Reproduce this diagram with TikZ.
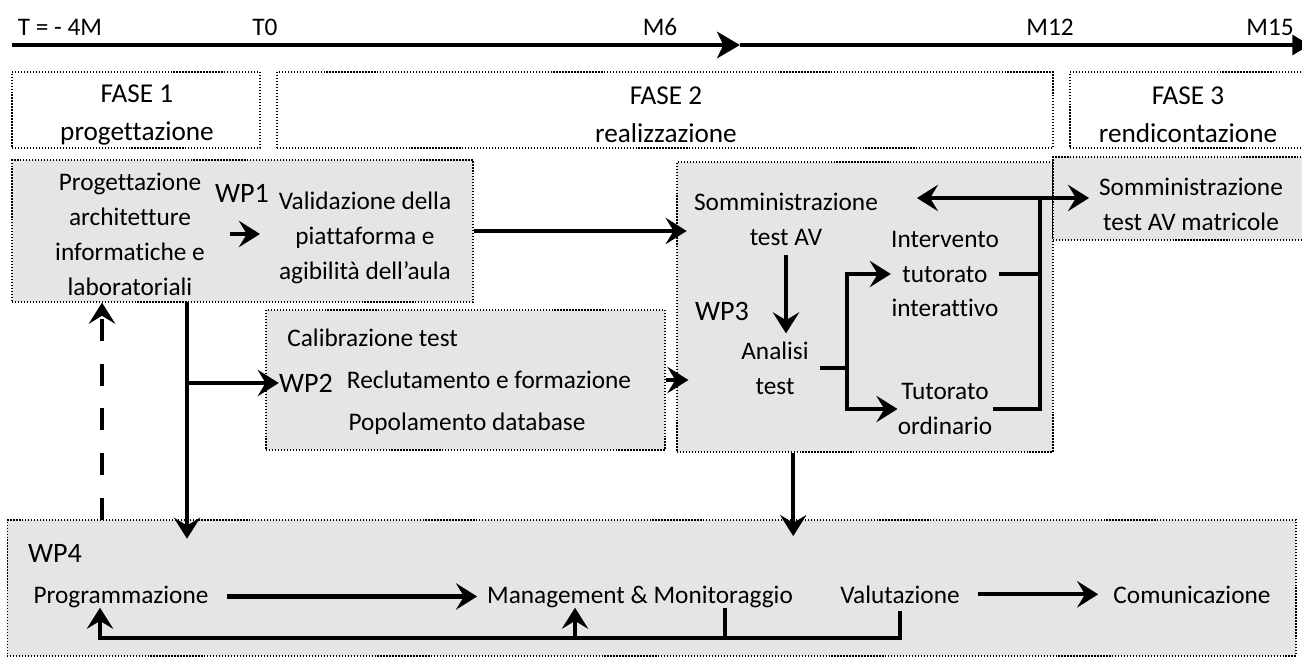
\documentclass[tikz,border=0pt]{standalone}
\usepackage{fontspec}
\setmainfont{Carlito}[Ligatures=NoCommon]
\usetikzlibrary{arrows.meta}

\tikzset{
  lbl/.style={inner sep=0pt, align=center, font=\fontsize{14.4}{19.9}\selectfont},
  wplbl/.style={lbl, font=\fontsize{16}{19.9}\selectfont},
  rowlbl/.style={lbl, anchor=base},
  phase/.style={draw, densely dotted, line width=0.7pt, minimum height=1.52cm},
  phasetext/.style={inner sep=0pt, align=center, font=\fontsize{15.5}{21.5}\selectfont},
  wpbox/.style={draw, densely dotted, line width=0.7pt, fill=black!10},
  flowline/.style={line width=2.4pt},
  flow/.style={flowline, -{Stealth[length=12pt,width=15pt,inset=4.5pt]}},
  flowboth/.style={flowline, {Stealth[length=12pt,width=15pt,inset=4.5pt]}-{Stealth[length=12pt,width=15pt,inset=4.5pt]}},
  tline/.style={line width=2.8pt}
}

\begin{document}
\begin{tikzpicture}[x=0.02cm, y=-0.02cm]
\useasboundingbox (0,0) rectangle (1302,659);

\coordinate (tlstart) at (12,45);
\coordinate (tlmid) at (740,45);
\coordinate (tlend) at (1310,45);
\draw[tline, -{Stealth[length=13pt,width=15pt,inset=3.5pt]}] (tlstart) -- (tlmid);
\draw[tline, -{Triangle[length=10pt,width=11pt]}] (tlmid) -- (tlend);
\node[lbl] (tminus) at (60,27) {T = - 4M};
\node[lbl] (tzero) at (265,27) {T0};
\node[lbl] (msix) at (660,27) {M6};
\node[lbl] (mtwelve) at (1050,27) {M12};
\node[lbl] (mfifteen) at (1270,27) {M15};

\node[phase, minimum width=4.96cm] (faseone) at (136,110) {};
\node[phase, minimum width=15.52cm] (fasetwo) at (665,110) {};
\node[phase, minimum width=4.84cm] (fasethree) at (1191,110) {};
\node[phasetext] (faseonetext) at (137,115) {FASE 1\\progettazione};
\node[phasetext] (fasetwotext) at (666,115) {FASE 2\\realizzazione};
\node[phasetext] (fasethreetext) at (1188,115) {FASE 3\\rendicontazione};

\node[wpbox, minimum width=9.22cm, minimum height=2.84cm] (wpone) at (242.5,231) {};
\node[wpbox, minimum width=7.98cm, minimum height=2.8cm] (wptwo) at (465.5,380) {};
\node[wpbox, minimum width=7.52cm, minimum height=5.8cm] (wpthree) at (865,307) {};
\node[wpbox, minimum width=5.18cm, minimum height=1.66cm] (matr) at (1182.5,198.5) {};
\node[wpbox, minimum width=25.78cm, minimum height=2.72cm] (wpfour) at (651.5,588) {};

\node[lbl] (prog) at (130,234) {Progettazione\\architetture\\informatiche e\\laboratoriali};
\node[wplbl] (wponelab) at (242,193) {WP1};
\node[lbl] (valid) at (365,238) {Validazione della\\piattaforma e\\agibilità dell’aula};

\node[lbl, anchor=west] (calib) at (287,338) {Calibrazione test};
\node[wplbl] (wptwolab) at (306,383) {WP2};
\node[lbl] (reclut) at (489,380) {Reclutamento e formazione};
\node[lbl] (popol) at (467,424) {Popolamento database};

\node[lbl] (somm) at (786,219) {Somministrazione\\test AV};
\node[wplbl] (wpthreelab) at (722,311) {WP3};
\node[lbl] (analisi) at (775,368) {Analisi\\test};
\node[lbl] (interv) at (945,274) {Intervento\\tutorato\\interattivo};
\node[lbl] (tutord) at (945,409) {Tutorato\\ordinario};
\node[lbl] (matrtext) at (1191,204) {Somministrazione\\test AV matricole};

\node[wplbl] (wpfourlab) at (55,553) {WP4};
\node[rowlbl] (progr) at (121,603) {Programmazione};
\node[rowlbl] (mgmt) at (640,603) {Management \& Monitoraggio};
\node[rowlbl] (valut) at (900,603) {Valutazione};
\node[rowlbl] (comun) at (1192,603) {Comunicazione};

\coordinate (wponefoot) at (187,302);
\coordinate (dashfoot) at (102,520);
\coordinate (fork) at (847,368);
\coordinate (loopc) at (1040,198);
\coordinate (fbl) at (100,638);

\draw[flow, shorten <=14pt, shorten >=10.5pt] (prog.east) -- (prog.east -| valid.west);
\draw[flow, shorten >=4pt] (wpone.east) -- (wpone.east -| somm.west);
\draw[flow, shorten >=-11pt] (wponefoot) -- (wponefoot |- wpfour.north);
\draw[flow] (wponefoot |- wptwolab) -- (wptwolab.west);
\draw[flow, dash pattern=on 12.5pt off 13pt] (dashfoot) -- (dashfoot |- wpone.south);
\draw[flow, shorten >=3pt] (wptwo.east) -- (wptwo.east -| somm.west);

\draw[flow, shorten <=5.5pt, shorten >=4.5pt] (somm.south) -- (somm.south |- analisi.north);
\draw[flowline, shorten <=6pt] (analisi.east) -- (fork);
\draw[flow] (fork) |- (interv.west);
\draw[flow] (fork) |- (tutord.west);
\draw[flowline] (interv.east) -| (loopc);
\draw[flowline] (tutord.east) -| (loopc);
\draw[flowboth, shorten <=22pt, shorten >=5.5pt] (loopc -| somm.east) -- (loopc -| matrtext.west);
\draw[flow, shorten >=-9.5pt] (wpthree.south -| mgmt.east) -- (mgmt.east |- wpfour.north);

\draw[flow, shorten <=10.5pt, shorten >=5.5pt] (progr.east) -- (progr.east -| mgmt.west);
\draw[flow, shorten <=10pt, shorten >=8.5pt] (valut.east) -- (valut.east -| comun.west);
\draw[flow, shorten <=4pt] (valut.south) |- (fbl) -- (fbl |- progr.south);
\draw[flowline] ([xshift=1.7cm]mgmt.south) -- ([xshift=1.7cm]mgmt.south |- fbl);
\draw[flow] ([xshift=-1.3cm]mgmt.south |- fbl) -- ([xshift=-1.3cm]mgmt.south);
\end{tikzpicture}
\end{document}
